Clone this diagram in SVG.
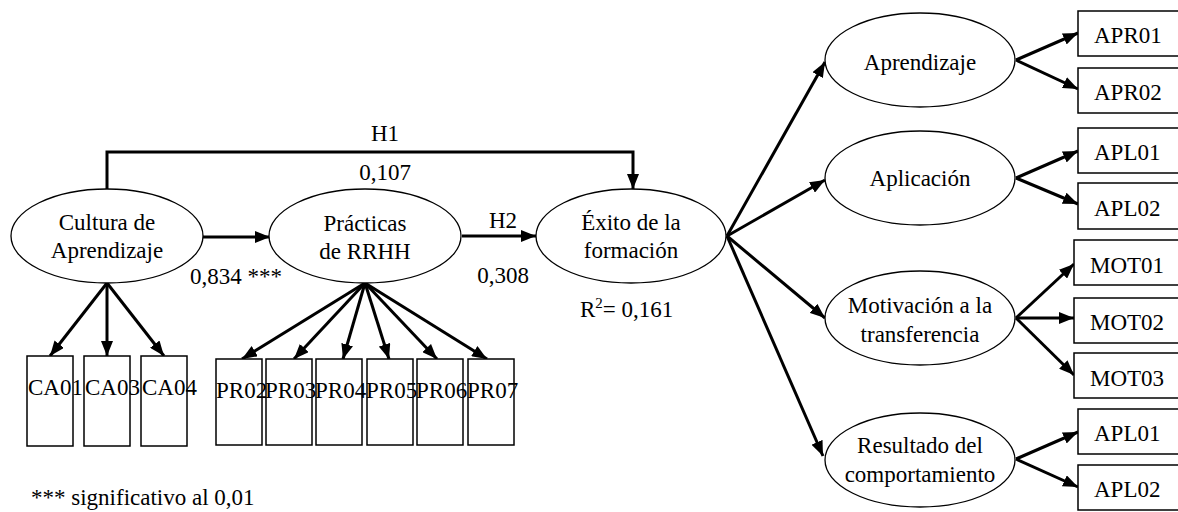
<svg xmlns="http://www.w3.org/2000/svg" width="1178" height="512" viewBox="0 0 1178 512">
<style>
text{font-family:"Times New Roman",Times,Tinos,"Liberation Serif","DejaVu Serif","Noto Serif",serif;font-size:23px;fill:#000}
.c{text-anchor:middle}
.lat{fill:#fff;stroke:#000;stroke-width:1.3}
.box{fill:#fff;stroke:#000;stroke-width:1.5}
.con{fill:none;stroke:#000;stroke-width:3;marker-end:url(#ah)}
</style>
<defs>
<marker id="ah" markerUnits="userSpaceOnUse" markerWidth="16" markerHeight="12" refX="15" refY="6" orient="auto">
<path d="M0,0 L15,6 L0,12 z" fill="#000"/>
</marker>
</defs>
<rect width="1178" height="512" fill="#fff"/>
<g id="connectors">
<path class="con" d="M107,189 V152 H633 V189"/>
<path class="con" d="M203,237 L270,237"/>
<path class="con" d="M462,236 L536,236"/>
<path class="con" d="M107,283 L50,356"/>
<path class="con" d="M107,283 L107,356"/>
<path class="con" d="M107,283 L164,356"/>
<path class="con" d="M365,283 L242,359"/>
<path class="con" d="M365,283 L294,359"/>
<path class="con" d="M365,283 L343,359"/>
<path class="con" d="M365,283 L389,359"/>
<path class="con" d="M365,283 L437,359"/>
<path class="con" d="M365,283 L487,359"/>
<path class="con" d="M727,236 L825,62"/>
<path class="con" d="M727,236 L825,180"/>
<path class="con" d="M727,236 L825,318"/>
<path class="con" d="M727,236 L823,456"/>
<path class="con" d="M1016,60 L1078,33"/>
<path class="con" d="M1016,60 L1078,89"/>
<path class="con" d="M1016,178 L1078,151"/>
<path class="con" d="M1016,178 L1078,204"/>
<path class="con" d="M1016,318 L1074,264"/>
<path class="con" d="M1016,318 L1074,318"/>
<path class="con" d="M1016,318 L1074,375"/>
<path class="con" d="M1016,459 L1078,432"/>
<path class="con" d="M1016,459 L1078,487"/>
</g>
<g id="labels">
<text class="c" x="385" y="141">H1</text>
<text class="c" x="385" y="180">0,107</text>
<text x="190" y="284">0,834 ***</text>
<text class="c" x="503" y="228">H2</text>
<text class="c" x="503" y="283">0,308</text>
<text x="580" y="317">R<tspan font-size="15" dy="-9">2</tspan><tspan dy="9">= 0,161</tspan></text>
<text x="31" y="505">*** significativo al 0,01</text>
</g>
<g id="cultura">
<ellipse class="lat" cx="107" cy="236" rx="96" ry="47"/>
<text class="c" x="107" y="230">Cultura de</text>
<text class="c" x="107" y="258">Aprendizaje</text>
</g>
<g id="practicas">
<ellipse class="lat" cx="365" cy="236" rx="96" ry="47"/>
<text class="c" x="365" y="231">Prácticas</text>
<text class="c" x="365" y="259">de RRHH</text>
</g>
<g id="exito">
<ellipse class="lat" cx="631" cy="236" rx="95" ry="47"/>
<text class="c" x="631" y="230">Éxito de la</text>
<text class="c" x="631" y="258">formación</text>
</g>
<g id="ca01"><rect class="box" x="27" y="356" width="46" height="90"/><text x="28" y="395">CA01</text></g>
<g id="ca03"><rect class="box" x="84" y="356" width="46" height="90"/><text x="85" y="395">CA03</text></g>
<g id="ca04"><rect class="box" x="141" y="356" width="46" height="90"/><text x="142" y="395">CA04</text></g>
<g id="pr02"><rect class="box" x="216" y="359" width="46" height="86"/><text x="216" y="398">PR02</text></g>
<g id="pr03"><rect class="box" x="266" y="359" width="46" height="86"/><text x="265" y="398">PR03</text></g>
<g id="pr04"><rect class="box" x="316" y="359" width="46" height="86"/><text x="315" y="398">PR04</text></g>
<g id="pr05"><rect class="box" x="367" y="359" width="46" height="86"/><text x="366" y="398">PR05</text></g>
<g id="pr06"><rect class="box" x="417" y="359" width="46" height="86"/><text x="416" y="398">PR06</text></g>
<g id="pr07"><rect class="box" x="468" y="359" width="46" height="86"/><text x="467" y="398">PR07</text></g>
<g id="aprendizaje">
<ellipse class="lat" cx="920" cy="60" rx="95" ry="47"/>
<text class="c" x="920" y="70">Aprendizaje</text>
</g>
<g id="aplicacion">
<ellipse class="lat" cx="920" cy="178" rx="95" ry="47"/>
<text class="c" x="920" y="186">Aplicación</text>
</g>
<g id="motivacion">
<ellipse class="lat" cx="920" cy="318" rx="95" ry="47"/>
<text class="c" x="920" y="313">Motivación a la</text>
<text class="c" x="920" y="342">transferencia</text>
</g>
<g id="resultado">
<ellipse class="lat" cx="920" cy="460" rx="95" ry="47"/>
<text class="c" x="920" y="453">Resultado del</text>
<text class="c" x="920" y="482">comportamiento</text>
</g>
<g id="apr01"><rect class="box" x="1078" y="11" width="110" height="45"/><text x="1094" y="43">APR01</text></g>
<g id="apr02"><rect class="box" x="1078" y="68" width="110" height="45"/><text x="1094" y="100">APR02</text></g>
<g id="apl01a"><rect class="box" x="1078" y="128" width="110" height="45"/><text x="1094" y="160">APL01</text></g>
<g id="apl02a"><rect class="box" x="1078" y="183" width="110" height="46"/><text x="1094" y="216">APL02</text></g>
<g id="mot01"><rect class="box" x="1074" y="240" width="110" height="45"/><text x="1090" y="273">MOT01</text></g>
<g id="mot02"><rect class="box" x="1074" y="298" width="110" height="45"/><text x="1090" y="330">MOT02</text></g>
<g id="mot03"><rect class="box" x="1074" y="353" width="110" height="45"/><text x="1090" y="386">MOT03</text></g>
<g id="apl01b"><rect class="box" x="1078" y="409" width="110" height="45"/><text x="1094" y="441">APL01</text></g>
<g id="apl02b"><rect class="box" x="1078" y="465" width="110" height="45"/><text x="1094" y="497">APL02</text></g>
</svg>
